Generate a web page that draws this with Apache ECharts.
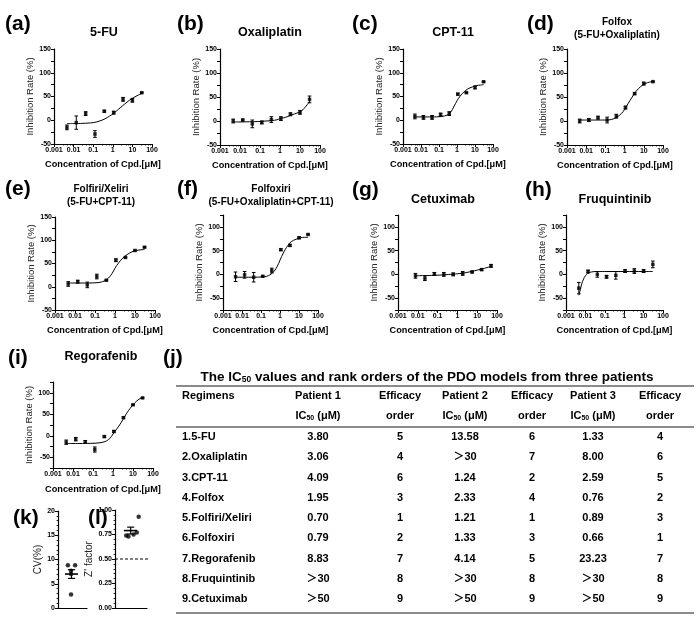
<!DOCTYPE html>
<html><head><meta charset="utf-8">
<script src="https://cdn.jsdelivr.net/npm/echarts@6/dist/echarts.min.js"></script>
<style>html,body{margin:0;padding:0;background:#fff}#c{width:700px;height:622px}</style>
</head><body><div id="c"></div>
<script>
// ---------------- DATA ----------------
const conc30 = [0.00457, 0.0137, 0.0412, 0.123, 0.370, 1.11, 3.33, 10, 30];
const conc50 = [0.00762, 0.0229, 0.0686, 0.206, 0.617, 1.85, 5.56, 16.7, 50];
const xTickLabels = ['0.001', '0.01', '0.1', '1', '10', '100'];
const curveX = [0.0046, 0.01, 0.03, 0.1, 0.2, 0.4, 0.7, 1, 1.5, 2.5, 4, 7, 12, 20, 30];

const fuMean = [-15, -5, 14, -29, 19, 16, 44, 42, 58];
const fuErr = [5, 14, 4, 7, 2, 3, 4, 4, 1];
const fuCurve = [-7, -7, -6.5, -5, -2, 3, 9, 13, 19, 27, 34, 42, 48, 53, 56];

const oxMean = [0, 2, -6, -3, 3, 5, 14, 18, 45];
const oxErr = [4, 2, 8, 3, 6, 4, 3, 4, 7];
const oxCurve = [-2, -2, -1.5, -1, 0, 1, 2.5, 5, 6.5, 9.5, 13, 16.5, 21, 31, 40];

const cpMean = [8, 6, 6, 12, 14, 55, 58, 69, 81];
const cpErr = [5, 4, 4, 3, 4, 2, 1, 3, 1];
const cpCurve = [7, 7, 7, 7.5, 9, 15, 30, 41, 51, 60, 66, 70, 73, 74, 75];

const foxMean = [0, 2, 7, 2, 10, 28, 57, 78, 82];
const foxErr = [4, 3, 3, 6, 4, 3, 2, 3, 1];
const foxCurve = [2, 2, 2, 2, 3, 8, 16, 24, 36, 50, 62, 72, 78, 81, 82];

const firiMean = [6, 11, 4, 22, 14, 57, 63, 78, 85];
const firiErr = [5, 3, 6, 5, 1, 3, 1, 1, 1];
const firiCurve = [8, 8, 8, 8.5, 10, 16, 28, 40, 51, 62, 69, 75, 78, 79.5, 80];

const foxiriMean = [-5, -1, -6, -4, 8, 52, 61, 77, 84];
const foxiriErr = [10, 7, 10, 1, 5, 2, 2, 2, 1];
const foxiriCurve = [-6, -6, -6, -5.5, -4, 3, 16, 30, 45, 60, 69, 74, 77, 78, 78];

const cetMean = [-3, -8, 1, 0, 0, 2, 5, 10, 18];
const cetErr = [5, 5, 3, 4, 3, 4, 2, 2, 3];
const cetCurveX = [0.0076, 0.02, 0.07, 0.2, 0.6, 1.8, 5, 10, 20, 50];
const cetCurve = [-3, -2.5, -2, -1, 0.5, 2.5, 6, 9, 12, 17];

const fruMean = [-29, 6, 0, -5, -2, 7, 7, 7, 21];
const fruErr = [12, 3, 6, 3, 8, 3, 5, 3, 7];
const fruCurveX = [0.0046, 0.0055, 0.0065, 0.008, 0.01, 0.013, 0.02, 0.04, 0.1, 1, 10, 30];
const fruCurve = [-44, -32, -20, -10, -3, 2, 5, 6, 6, 6, 6, 6];

const regMean = [-15, -8, -14, -32, -2, 10, 42, 72, 88];
const regErr = [5, 4, 3, 6, 2, 2, 2, 1, 1];
const regCurve = [-18, -18, -18, -17.5, -16.5, -13.5, -6, 4, 15, 30, 46, 63, 76, 85, 89];

const kVals = [8.8, 8.8, 7.7, 7.0, 2.8];
const kJitter = [0.34, 0.59, 0.45, 0.45, 0.45];
const kMean = 7.0, kSem = 0.9;
const lVals = [0.93, 0.77, 0.75, 0.74, 0.73];
const lJitter = [0.74, 0.68, 0.58, 0.35, 0.42];
const lMean = 0.79, lSem = 0.035;
const zRef = 0.5;

const regimens = ['1.5-FU', '2.Oxaliplatin', '3.CPT-11', '4.Folfox', '5.Folfiri/Xeliri', '6.Folfoxiri', '7.Regorafenib', '8.Fruquintinib', '9.Cetuximab'];
const p1IC50 = ['3.80', '3.06', '4.09', '1.95', '0.70', '0.79', '8.83', '＞30', '＞50'];
const p1Order = [5, 4, 6, 3, 1, 2, 7, 8, 9];
const p2IC50 = ['13.58', '＞30', '1.24', '2.33', '1.21', '1.33', '4.14', '＞30', '＞50'];
const p2Order = [6, 7, 2, 4, 1, 3, 5, 8, 9];
const p3IC50 = ['1.33', '8.00', '2.59', '0.76', '0.89', '0.66', '23.23', '＞30', '＞50'];
const p3Order = [4, 6, 5, 2, 3, 1, 7, 8, 9];
const header1 = ['Regimens', 'Patient 1', 'Efficacy', 'Patient 2', 'Efficacy', 'Patient 3', 'Efficacy'];
const header2 = ['', '{n|IC}{s|50}{n| (μM)}', 'order', '{n|IC}{s|50}{n| (μM)}', 'order', '{n|IC}{s|50}{n| (μM)}', 'order'];

// ---------------- LAYOUT ----------------
const FONT = '"Liberation Sans", Arial, "Noto Sans CJK SC", sans-serif';
const panels = [
  {t: ['5-FU'], m: fuMean, e: fuErr, c: conc30, cx: curveX, cy: fuCurve, g: [54, 49, 98, 95], y: [-50, 150], tx: 104, ty: [33], lab: '(a)', lx: 5, ly: 24, ng: 16},
  {t: ['Oxaliplatin'], m: oxMean, e: oxErr, c: conc30, cx: curveX, cy: oxCurve, g: [220, 49, 100, 96], y: [-50, 150], tx: 270, ty: [33], lab: '(b)', lx: 177, ly: 24, ng: 16},
  {t: ['CPT-11'], m: cpMean, e: cpErr, c: conc30, cx: curveX, cy: cpCurve, g: [403, 49, 90, 95], y: [-50, 150], tx: 453, ty: [33], lab: '(c)', lx: 352, ly: 24, ng: 16},
  {t: ['Folfox', '(5-FU+Oxaliplatin)'], m: foxMean, e: foxErr, c: conc30, cx: curveX, cy: foxCurve, g: [567, 49, 96, 96], y: [-50, 150], tx: 617, ty: [22, 35], lab: '(d)', lx: 527, ly: 24, ng: 16},
  {t: ['Folfiri/Xeliri', '(5-FU+CPT-11)'], m: firiMean, e: firiErr, c: conc30, cx: curveX, cy: firiCurve, g: [55, 217, 100, 93], y: [-50, 150], tx: 101, ty: [189, 202], lab: '(e)', lx: 5, ly: 189, ng: 16},
  {t: ['Folfoxiri', '(5-FU+Oxaliplatin+CPT-11)'], m: foxiriMean, e: foxiriErr, c: conc30, cx: curveX, cy: foxiriCurve, g: [223, 215, 95, 95], y: [-75, 125], tx: 271, ty: [189, 202], lab: '(f)', lx: 177, ly: 189, ng: 16},
  {t: ['Cetuximab'], m: cetMean, e: cetErr, c: conc50, cx: cetCurveX, cy: cetCurve, g: [398, 215, 99, 95], y: [-75, 125], tx: 443, ty: [200], lab: '(g)', lx: 352, ly: 190, ng: 16},
  {t: ['Fruquintinib'], m: fruMean, e: fruErr, c: conc30, cx: fruCurveX, cy: fruCurve, g: [566, 215, 97, 95], y: [-75, 125], tx: 615, ty: [200], lab: '(h)', lx: 525, ly: 190, ng: 16},
  {t: ['Regorafenib'], m: regMean, e: regErr, c: conc30, cx: curveX, cy: regCurve, g: [53, 382, 100, 86], y: [-75, 125], tx: 101, ty: [357], lab: '(i)', lx: 8, ly: 358, ng: 17}
];

const grid = [], xAxis = [], yAxis = [], series = [], elements = [];
const axisLineStyle = {color: '#000', width: 1.2};
const tickLabel = {fontSize: 7, fontWeight: 'bold', color: '#000', fontFamily: FONT, margin: 3};

function errRender(params, api) {
  const x = api.value(0), lo = api.value(1), hi = api.value(2);
  const p1 = api.coord([x, lo]), p2 = api.coord([x, hi]);
  const w = 1.8, st = {stroke: '#000', lineWidth: 1};
  return {type: 'group', children: [
    {type: 'line', shape: {x1: p1[0], y1: p1[1], x2: p2[0], y2: p2[1]}, style: st},
    {type: 'line', shape: {x1: p1[0] - w, y1: p1[1], x2: p1[0] + w, y2: p1[1]}, style: st},
    {type: 'line', shape: {x1: p2[0] - w, y1: p2[1], x2: p2[0] + w, y2: p2[1]}, style: st}
  ]};
}

function txt(text, x, y, size, align, weight, color) {
  elements.push({type: 'text', silent: true, style: {text: text, x: x, y: y, textAlign: align || 'center', textVerticalAlign: 'middle',
    font: (weight || 'bold') + ' ' + size + 'px ' + FONT, fill: color || '#000'}});
}

panels.forEach((p, i) => {
  grid.push({left: p.g[0], top: p.g[1], width: p.g[2], height: p.g[3]});
  xAxis.push({gridIndex: i, type: 'log', logBase: 10, min: 0.001, max: 100,
    axisLine: {show: true, onZero: false, lineStyle: axisLineStyle},
    axisTick: {show: true, length: 3, lineStyle: {color: '#000', width: 1}},
    minorTick: {show: true, splitNumber: 5, length: 1.5, lineStyle: {color: '#000', width: 0.8}},
    splitLine: {show: false}, minorSplitLine: {show: false},
    axisLabel: Object.assign({}, tickLabel, {formatter: v => xTickLabels[Math.round(Math.log10(v)) + 3]}),
    name: 'Concentration of Cpd.[μM]', nameLocation: 'middle', nameGap: p.ng,
    nameTextStyle: {fontSize: 9.2, fontWeight: 'bold', color: '#000', fontFamily: FONT}});
  yAxis.push({gridIndex: i, type: 'value', min: p.y[0], max: p.y[1], interval: 25,
    axisLine: {show: true, onZero: false, lineStyle: axisLineStyle},
    axisTick: {show: true, length: 3, lineStyle: {color: '#000', width: 1}},
    splitLine: {show: false},
    axisLabel: Object.assign({}, tickLabel, {formatter: v => (v % 50 === 0 ? String(v) : '')}),
    name: 'Inhibition Rate (%)', nameLocation: 'middle', nameGap: 19,
    nameTextStyle: {fontSize: 9.5, color: '#222', fontFamily: FONT}});
  series.push({type: 'line', xAxisIndex: i, yAxisIndex: i, data: p.cx.map((x, j) => [x, p.cy[j]]),
    smooth: 0.4, symbol: 'none', lineStyle: {color: '#000', width: 1}, z: 2, silent: true});
  series.push({type: 'custom', xAxisIndex: i, yAxisIndex: i, renderItem: errRender, encode: {x: 0, y: [1, 2]},
    data: p.c.map((x, j) => [x, p.m[j] - p.e[j], p.m[j] + p.e[j]]), z: 3, silent: true});
  series.push({type: 'scatter', xAxisIndex: i, yAxisIndex: i, data: p.c.map((x, j) => [x, p.m[j]]),
    symbol: 'rect', symbolSize: 3.5, itemStyle: {color: '#000'}, z: 4, silent: true});
  const big = p.t.length === 1;
  p.t.forEach((s, k) => txt(s, p.tx, p.ty[k], big ? 12.5 : 10));
  txt(p.lab, p.lx, p.ly, 21, 'left');
});

// (k) and (l) dot plots
const small = [
  {vals: kVals, jit: kJitter, mean: kMean, sem: kSem, g: [58, 511, 29, 97], y: [0, 20], iv: 5, name: 'CV(%)', fmt: v => String(v), bar: [0.24, 0.69], cap: [0.34, 0.59]},
  {vals: lVals, jit: lJitter, mean: lMean, sem: lSem, g: [115, 510, 32, 98], y: [0, 1], iv: 0.25, name: "Z' factor", fmt: v => v.toFixed(2), bar: [0.28, 0.69], cap: [0.38, 0.6]}
];
small.forEach((s, k) => {
  const i = panels.length + k;
  grid.push({left: s.g[0], top: s.g[1], width: s.g[2], height: s.g[3]});
  xAxis.push({gridIndex: i, type: 'value', min: 0, max: 1, axisLine: {show: true, onZero: false, lineStyle: axisLineStyle},
    axisTick: {show: false}, axisLabel: {show: false}, splitLine: {show: false}});
  yAxis.push({gridIndex: i, type: 'value', min: s.y[0], max: s.y[1], interval: s.iv,
    axisLine: {show: true, onZero: false, lineStyle: axisLineStyle},
    axisTick: {show: true, length: 3, lineStyle: {color: '#000'}},
    minorTick: {show: true, splitNumber: 5, length: 1.5, lineStyle: {color: '#000', width: 0.8}},
    splitLine: {show: false},
    axisLabel: Object.assign({}, tickLabel, {formatter: s.fmt}),
    name: s.name, nameLocation: 'middle', nameGap: 14,
    nameTextStyle: {fontSize: 10, color: '#222', fontFamily: FONT}});
  series.push({type: 'scatter', xAxisIndex: i, yAxisIndex: i, data: s.vals.map((v, j) => [s.jit[j], v]),
    symbol: 'circle', symbolSize: 4.5, itemStyle: {color: '#000'}, silent: true});
  series.push({type: 'custom', xAxisIndex: i, yAxisIndex: i, silent: true, data: [[s.mean, s.sem]],
    renderItem: (params, api) => {
      const m = api.value(0), e = api.value(1), st = {stroke: '#000', lineWidth: 1.2};
      const a = api.coord([s.bar[0], m]), b = api.coord([s.bar[1], m]);
      const c1 = api.coord([s.cap[0], m + e]), c2 = api.coord([s.cap[1], m + e]);
      const d1 = api.coord([s.cap[0], m - e]), d2 = api.coord([s.cap[1], m - e]);
      const mx = (c1[0] + c2[0]) / 2;
      return {type: 'group', children: [
        {type: 'line', shape: {x1: a[0], y1: a[1], x2: b[0], y2: b[1]}, style: {stroke: '#000', lineWidth: 1.6}},
        {type: 'line', shape: {x1: mx, y1: c1[1], x2: mx, y2: d1[1]}, style: st},
        {type: 'line', shape: {x1: c1[0], y1: c1[1], x2: c2[0], y2: c2[1]}, style: st},
        {type: 'line', shape: {x1: d1[0], y1: d1[1], x2: d2[0], y2: d2[1]}, style: st}
      ]};
    }});
});
series.push({type: 'line', xAxisIndex: 10, yAxisIndex: 10, data: [[0, zRef], [1.25, zRef]], clip: false, symbol: 'none', silent: true,
  lineStyle: {color: '#000', width: 1, type: [3, 2]}});
txt('(k)', 13, 518, 21, 'left');
txt('(l)', 88, 518, 21, 'left');
txt('(j)', 163, 358, 21, 'left');

// (j) table
const tFont = 'bold 11px ' + FONT;
const colX = [182, 318, 400, 465, 532, 593, 660];
const rich = {n: {font: tFont, fill: '#000'}, s: {font: 'bold 7px ' + FONT, fill: '#000', verticalAlign: 'bottom'}};
elements.push({type: 'text', silent: true, style: {text: '{n|The IC}{s|50}{n| values and rank orders of the PDO models from three patients}',
  x: 427, y: 377, textAlign: 'center', textVerticalAlign: 'middle',
  rich: {n: {font: 'bold 13.5px ' + FONT, fill: '#000'}, s: {font: 'bold 8.5px ' + FONT, fill: '#000', verticalAlign: 'bottom'}}}});
[386, 427, 613].forEach(y => elements.push({type: 'line', silent: true, shape: {x1: 176, y1: y, x2: 694, y2: y}, style: {stroke: '#8a8a8a', lineWidth: 2}}));
header1.forEach((h, c) => elements.push({type: 'text', silent: true, style: {text: h, x: colX[c], y: 396, textAlign: c === 0 ? 'left' : 'center', textVerticalAlign: 'middle', font: tFont, fill: '#000'}}));
header2.forEach((h, c) => { if (h) elements.push({type: 'text', silent: true, style: {text: h.indexOf('{') === 0 ? h : '{n|' + h + '}', x: colX[c], y: 416, textAlign: 'center', textVerticalAlign: 'middle', rich: rich}}); });
regimens.forEach((r, k) => {
  const y = 437 + k * 20.25;
  const cells = [r, p1IC50[k], String(p1Order[k]), p2IC50[k], String(p2Order[k]), p3IC50[k], String(p3Order[k])];
  cells.forEach((v, c) => elements.push({type: 'text', silent: true, style: {text: v, x: colX[c], y: y, textAlign: c === 0 ? 'left' : 'center', textVerticalAlign: 'middle', font: tFont, fill: '#000'}}));
});

const chart = echarts.init(document.getElementById('c'), null, {renderer: 'canvas'});
chart.setOption({animation: false, backgroundColor: '#fff', grid, xAxis, yAxis, series, graphic: {elements}});
</script></body></html>
